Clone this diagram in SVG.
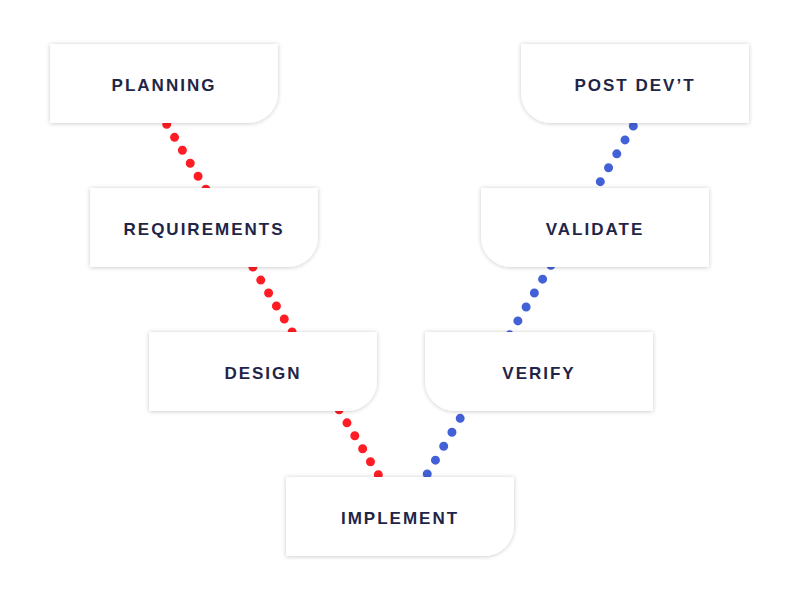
<svg xmlns="http://www.w3.org/2000/svg" width="800" height="600" viewBox="0 0 800 600">
<defs>
<filter id="sh" x="-10%" y="-20%" width="120%" height="140%">
<feDropShadow dx="0" dy="0.5" stdDeviation="2.2" flood-color="#000" flood-opacity="0.22"/>
</filter>
<style>
.box{fill:#ffffff;filter:url(#sh);}
.lbl{font-family:"Liberation Sans",Arial,sans-serif;font-weight:700;font-size:17px;letter-spacing:2px;fill:#1f2547;text-anchor:middle;}
.dots{fill:none;stroke-width:9;stroke-linecap:round;}
.red{stroke:#ff1d25;stroke-dasharray:0 15.16;}
.blue{stroke:#4361d6;stroke-dasharray:0 16.18;}
</style>
</defs>
<rect width="800" height="600" fill="#ffffff"/>
<g id="connectors">
<line class="dots red" x1="143.2" y1="85.4" x2="394" y2="500.7"/>
<line class="dots blue" x1="658" y1="84.2" x2="410.8" y2="501.8"/>
</g>
<g id="planning">
<path class="box" d="M50,44 h228 v49 a30,30 0 0 1 -30,30 h-198 z"/>
<text class="lbl" x="164" y="90.5">PLANNING</text>
</g>
<g id="requirements">
<path class="box" d="M90,188 h228 v49 a30,30 0 0 1 -30,30 h-198 z"/>
<text class="lbl" x="204" y="234.5">REQUIREMENTS</text>
</g>
<g id="design">
<path class="box" d="M149,332 h228 v49 a30,30 0 0 1 -30,30 h-198 z"/>
<text class="lbl" x="263" y="378.5">DESIGN</text>
</g>
<g id="implement">
<path class="box" d="M286,477 h228 v49 a30,30 0 0 1 -30,30 h-198 z"/>
<text class="lbl" x="400" y="523.5">IMPLEMENT</text>
</g>
<g id="verify">
<path class="box" d="M425,332 h228 v79 h-198 a30,30 0 0 1 -30,-30 z"/>
<text class="lbl" x="539" y="378.5">VERIFY</text>
</g>
<g id="validate">
<path class="box" d="M481,188 h228 v79 h-198 a30,30 0 0 1 -30,-30 z"/>
<text class="lbl" x="595" y="234.5">VALIDATE</text>
</g>
<g id="postdev">
<path class="box" d="M521,44 h228 v79 h-198 a30,30 0 0 1 -30,-30 z"/>
<text class="lbl" x="635" y="90.5">POST DEV’T</text>
</g>
</svg>
